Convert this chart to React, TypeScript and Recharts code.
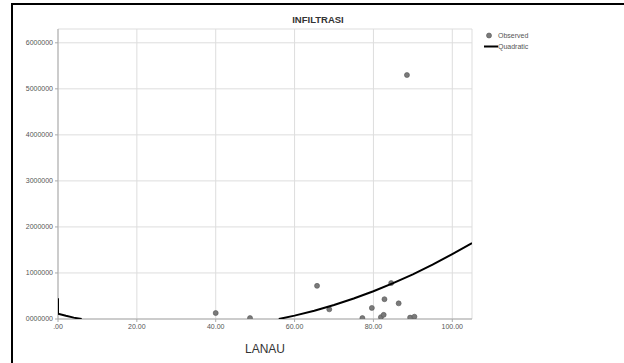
import { ScatterChart, Scatter, XAxis, YAxis, CartesianGrid } from 'recharts';

// observed points (LANAU vs INFILTRASI)
const obsLanau = [40, 48.7, 65.7, 68.8, 77.2, 79.6, 81.9, 82.6, 82.8, 84.5, 86.4, 88.5, 89.3, 90.4];
const obsInfiltrasi = [130000, 20000, 720000, 210000, 20000, 240000, 40000, 90000, 430000, 780000, 340000, 5300000, 30000, 50000];

// quadratic fit (clipped below 0 in the original)
const fitLeftLanau = [0, 0, 2, 4, 6];
const fitLeftValue = [450000, 114000, 69000, 30000, 0];
const fitRightLanau = [56, 60, 65, 70, 75, 80, 85, 90, 95, 100, 105];
const fitRightValue = [0, 73000, 180000, 305000, 446000, 604000, 779000, 971000, 1180000, 1410000, 1650000];

const xTicks = [0, 20, 40, 60, 80, 100];
const yTicks = [0, 1000000, 2000000, 3000000, 4000000, 5000000, 6000000];

const observed = obsLanau.map((x, i) => ({ x, y: obsInfiltrasi[i] }));
const fitLeft = fitLeftLanau.map((x, i) => ({ x, y: fitLeftValue[i] }));
const fitRight = fitRightLanau.map((x, i) => ({ x, y: fitRightValue[i] }));

const font = 'Liberation Sans, Arial, sans-serif';
const tickStyle = { fontSize: 7, fill: '#555', fontFamily: font };

const fmtX = (v: number) => (v === 0 ? '.00' : v.toFixed(2));
const fmtY = (v: number) => String(v).padStart(7, '0');

const Dot = (props: any) => {
  const { cx, cy } = props;
  if (cx == null || cy == null) return <g />;
  return <circle cx={cx} cy={cy} r={2.5} fill="#7a7a7a" stroke="#555" strokeWidth={0.6} />;
};

const NoDot = () => <g />;

const LegendBox = () => (
  <div style={{ position: 'absolute', left: 484, top: 30, fontFamily: font, fontSize: 7, color: '#555', lineHeight: '11px' }}>
    <div style={{ display: 'flex', alignItems: 'center' }}>
      <svg width={14} height={11}>
        <circle cx={5} cy={5.5} r={2.5} fill="#7a7a7a" stroke="#555" strokeWidth={0.6} />
      </svg>
      <span>Observed</span>
    </div>
    <div style={{ display: 'flex', alignItems: 'center' }}>
      <svg width={14} height={11}>
        <line x1={0} y1={5.5} x2={14} y2={5.5} stroke="#000" strokeWidth={2} />
      </svg>
      <span>Quadratic</span>
    </div>
  </div>
);

export default function App() {
  return (
    <div style={{ position: 'absolute', left: 0, top: 0, width: 624, height: 363, background: '#fff', overflow: 'hidden' }}>
      <div
        style={{
          position: 'absolute',
          left: 11,
          top: 3,
          width: 640,
          height: 400,
          borderTop: '2px solid #000',
          borderLeft: '2px solid #000',
          boxSizing: 'border-box',
        }}
      />
      <div
        style={{
          position: 'absolute',
          left: 268,
          width: 100,
          top: 14,
          textAlign: 'center',
          fontFamily: font,
          fontWeight: 'bold',
          fontSize: 9.5,
          color: '#333',
        }}
      >
        INFILTRASI
      </div>
      <LegendBox />
      <div style={{ position: 'absolute', left: 0, top: 0 }}>
        <ScatterChart width={624} height={363} margin={{ top: 29, right: 152, left: 8, bottom: 24 }}>
          <CartesianGrid stroke="#ddd" strokeWidth={1} />
          <XAxis
            type="number"
            dataKey="x"
            domain={[0, 105]}
            ticks={xTicks}
            tickFormatter={fmtX}
            tick={tickStyle}
            height={20}
            tickSize={3}
            stroke="#aaa"
            allowDataOverflow
            label={{
              value: 'LANAU',
              position: 'bottom',
              offset: 5,
              style: { fontSize: 12, fill: '#333', fontFamily: font },
            }}
          />
          <YAxis
            type="number"
            dataKey="y"
            domain={[0, 6300000]}
            ticks={yTicks}
            tickFormatter={fmtY}
            tick={tickStyle}
            width={50}
            tickSize={3}
            stroke="#aaa"
            allowDataOverflow
          />
          <Scatter data={observed} shape={Dot} isAnimationActive={false} />
          <Scatter
            data={fitLeft}
            shape={NoDot}
            line={{ stroke: '#000', strokeWidth: 2 }}
            lineType="joint"
            isAnimationActive={false}
          />
          <Scatter
            data={fitRight}
            shape={NoDot}
            line={{ stroke: '#000', strokeWidth: 2 }}
            lineType="joint"
            isAnimationActive={false}
          />
        </ScatterChart>
      </div>
    </div>
  );
}
